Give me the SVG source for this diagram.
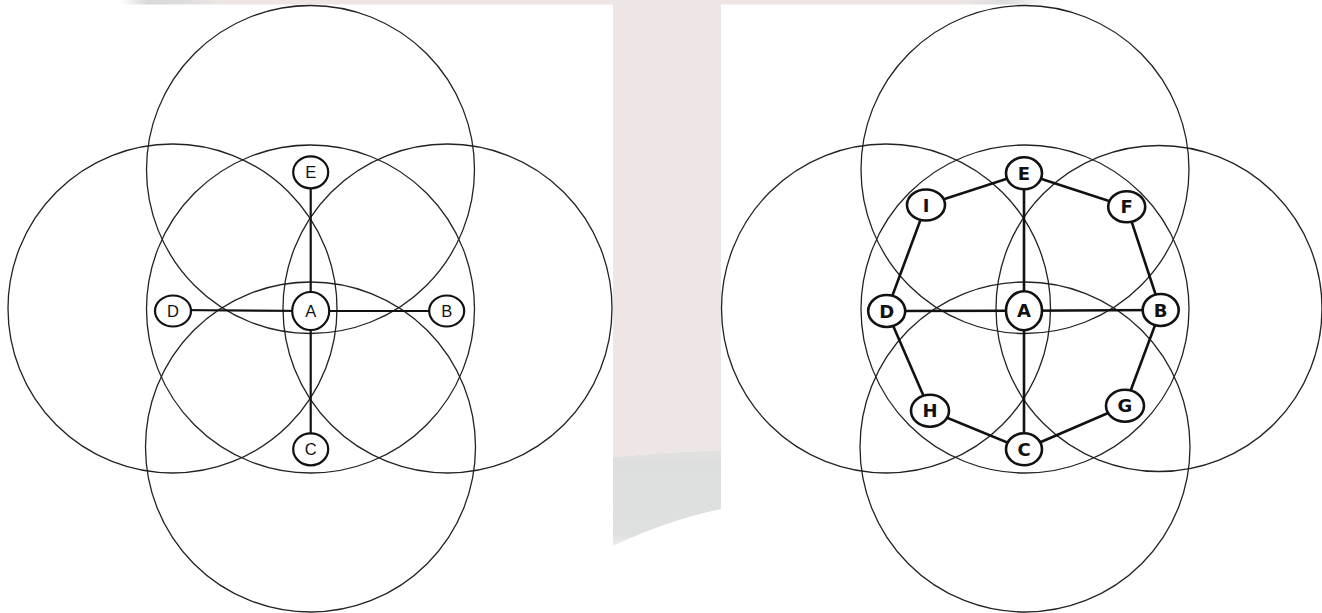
<svg xmlns="http://www.w3.org/2000/svg" width="1322" height="613" viewBox="0 0 1322 613">
  <defs>
    <linearGradient id="band" gradientUnits="userSpaceOnUse" x1="120" y1="0" x2="1052" y2="0">
      <stop offset="0" stop-color="#ffffff"/>
      <stop offset="0.03" stop-color="#d8d8d8"/>
      <stop offset="0.08" stop-color="#e2dfde"/>
      <stop offset="0.11" stop-color="#eee6e5"/>
      <stop offset="0.90" stop-color="#eee6e5"/>
      <stop offset="0.95" stop-color="#dcdcdc"/>
      <stop offset="1" stop-color="#ffffff"/>
    </linearGradient>
    <linearGradient id="lower" gradientUnits="userSpaceOnUse" x1="0" y1="440" x2="0" y2="546">
      <stop offset="0" stop-color="#e6e3e2"/>
      <stop offset="0.2" stop-color="#dddfde"/>
      <stop offset="0.9" stop-color="#dfe1e0"/>
      <stop offset="1" stop-color="#eef0ef"/>
    </linearGradient>
    <style>
      .ring { fill: none; stroke: #222; stroke-width: 1.3; }
      .edge { stroke: #111; stroke-width: 2.2; fill: none; }
      .edge2 { stroke: #111; stroke-width: 2.6; fill: none; }
      .node { fill: #fff; stroke: #111; stroke-width: 2.2; }
      .node2 { fill: #fff; stroke: #111; stroke-width: 2.6; }
      .lbl { font-family: "Liberation Sans", Arial, sans-serif; font-size: 16.5px; fill: #111; text-anchor: middle; dominant-baseline: central; }
      .lbl2 { font-family: "DejaVu Sans", sans-serif; font-weight: bold; font-size: 18px; fill: #111; text-anchor: middle; dominant-baseline: central; }
    </style>
  </defs>
  <rect width="1322" height="613" fill="#fff"/>
  <g id="background">
    <rect x="120" y="0" width="932" height="4.5" fill="url(#band)"/>
    <path d="M613,0 H721 V450 Q667,452 613,457 Z" fill="#eee6e5"/>
    <path d="M613,457 Q667,452 721,450 V509 Q668,520 613,546 Z" fill="url(#lower)"/>
  </g>
  <g id="rings-left">
    <circle class="ring" cx="310.5" cy="309" r="164"/>
    <circle class="ring" cx="310.5" cy="169.5" r="164"/>
    <circle class="ring" cx="310.5" cy="447" r="165"/>
    <circle class="ring" cx="172.5" cy="308.5" r="164.5"/>
    <circle class="ring" cx="447.5" cy="308.5" r="164.5"/>
  </g>
  <g id="rings-right">
    <circle class="ring" cx="1025" cy="309" r="164"/>
    <circle class="ring" cx="1025" cy="169.5" r="164"/>
    <circle class="ring" cx="1025" cy="447" r="165"/>
    <circle class="ring" cx="886" cy="308.5" r="164.5"/>
    <circle class="ring" cx="1159" cy="308.5" r="163"/>
  </g>
  <g id="connectors">
    <line class="edge" x1="310.7" y1="172.3" x2="310.7" y2="311"/>
    <line class="edge" x1="310.7" y1="311" x2="310.7" y2="449.3"/>
    <line class="edge" x1="173" y1="310" x2="310.7" y2="311"/>
    <line class="edge" x1="310.7" y1="311" x2="446.7" y2="311"/>
    <line class="edge2" x1="1024" y1="173.3" x2="1024" y2="310.7"/>
    <line class="edge2" x1="1024" y1="310.7" x2="1024" y2="449.3"/>
    <line class="edge2" x1="886.7" y1="311" x2="1024" y2="310.7"/>
    <line class="edge2" x1="1024" y1="310.7" x2="1160.7" y2="310"/>
    <polygon class="edge2" points="1024,173.3 1126.7,206.7 1160.7,310 1125,405.7 1024,449.3 930,410.7 886.7,311 926,205"/>
  </g>
  <g id="node-left-E"><ellipse class="node" cx="310.7" cy="172.3" rx="17.5" ry="16"/><text class="lbl" x="310.7" y="172.3">E</text></g>
  <g id="node-left-D"><ellipse class="node" cx="173" cy="311" rx="18" ry="15.5"/><text class="lbl" x="173" y="311">D</text></g>
  <g id="node-left-A"><ellipse class="node" cx="310.7" cy="311" rx="18.5" ry="19"/><text class="lbl" x="310.7" y="311">A</text></g>
  <g id="node-left-B"><ellipse class="node" cx="446.7" cy="311" rx="17.5" ry="15.5"/><text class="lbl" x="446.7" y="311">B</text></g>
  <g id="node-left-C"><ellipse class="node" cx="310.7" cy="449.3" rx="17.5" ry="16"/><text class="lbl" x="310.7" y="449.3">C</text></g>
  <g id="node-right-E"><ellipse class="node2" cx="1024" cy="173.3" rx="18" ry="16"/><text class="lbl2" x="1024" y="173.3">E</text></g>
  <g id="node-right-F"><ellipse class="node2" cx="1126.7" cy="206.7" rx="18.5" ry="15.5"/><text class="lbl2" x="1126.7" y="206.7">F</text></g>
  <g id="node-right-B"><ellipse class="node2" cx="1160.7" cy="310" rx="18" ry="16"/><text class="lbl2" x="1160.7" y="310">B</text></g>
  <g id="node-right-G"><ellipse class="node2" cx="1125" cy="405.7" rx="19" ry="16"/><text class="lbl2" x="1125" y="405.7">G</text></g>
  <g id="node-right-C"><ellipse class="node2" cx="1024" cy="449.3" rx="18" ry="16"/><text class="lbl2" x="1024" y="449.3">C</text></g>
  <g id="node-right-H"><ellipse class="node2" cx="930" cy="410.7" rx="19" ry="16"/><text class="lbl2" x="930" y="410.7">H</text></g>
  <g id="node-right-D"><ellipse class="node2" cx="886.7" cy="311" rx="18.5" ry="16"/><text class="lbl2" x="886.7" y="311">D</text></g>
  <g id="node-right-I"><ellipse class="node2" cx="926" cy="205" rx="19" ry="15.5"/><text class="lbl2" x="926" y="205">I</text></g>
  <g id="node-right-A"><ellipse class="node2" cx="1024" cy="310.7" rx="18" ry="19.5"/><text class="lbl2" x="1024" y="310.7">A</text></g>
</svg>
